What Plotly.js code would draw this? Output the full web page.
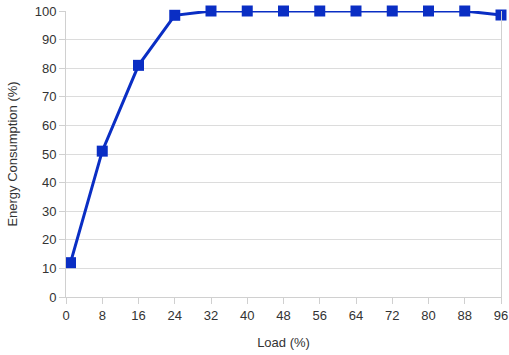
<!DOCTYPE html>
<html>
<head>
<meta charset="utf-8">
<script src="https://cdn.plot.ly/plotly-3.0.1.min.js"></script>
<style>html,body{margin:0;padding:0;background:#fff}#chart{width:509px;height:355px}</style>
</head>
<body>
<div id="chart"></div>
<script>
const load = [1, 8, 16, 24, 32, 40, 48, 56, 64, 72, 80, 88, 96];
const energy = [12, 51, 81, 98.5, 100, 100, 100, 100, 100, 100, 100, 100, 98.6];
const xTicks = [0, 8, 16, 24, 32, 40, 48, 56, 64, 72, 80, 88, 96];
const yTicks = [0, 10, 20, 30, 40, 50, 60, 70, 80, 90, 100];

const trace = {
  x: load, y: energy, type: 'scatter', mode: 'lines+markers',
  line: {color: '#0a2ec4', width: 3},
  marker: {symbol: 'square', size: 11, color: '#0a2ec4'},
  cliponaxis: false
};
const axFont = {family: 'Liberation Sans, Arial, sans-serif', size: 13, color: '#333'};
const layout = {
  width: 509, height: 355,
  margin: {l: 66, r: 8, t: 11, b: 58},
  paper_bgcolor: '#fff', plot_bgcolor: '#fff',
  showlegend: false,
  font: axFont,
  xaxis: {
    range: [0, 96], tickvals: xTicks, ticktext: xTicks.map(String),
    showgrid: false, zeroline: false,
    showline: true, linecolor: '#d0d0d0', linewidth: 1,
    ticks: 'outside', ticklen: 6, tickcolor: '#d0d0d0',
    tickfont: axFont,
    title: {text: 'Load (%)', font: {family: 'Liberation Sans, Arial, sans-serif', size: 13, color: '#333'}, standoff: 16}
  },
  yaxis: {
    range: [0, 100], tickvals: yTicks, ticktext: yTicks.map(String),
    showgrid: true, gridcolor: '#dcdcdc', gridwidth: 1, zeroline: false,
    showline: true, mirror: true, linecolor: '#d0d0d0', linewidth: 1,
    ticks: 'outside', ticklen: 6, tickcolor: '#d0d0d0',
    tickfont: axFont,
    title: {text: 'Energy Consumption (%)', font: {family: 'Liberation Sans, Arial, sans-serif', size: 13, color: '#333'}, standoff: 14}
  }
};
Plotly.newPlot('chart', [trace], layout, {staticPlot: true, displayModeBar: false});
</script>
</body>
</html>
